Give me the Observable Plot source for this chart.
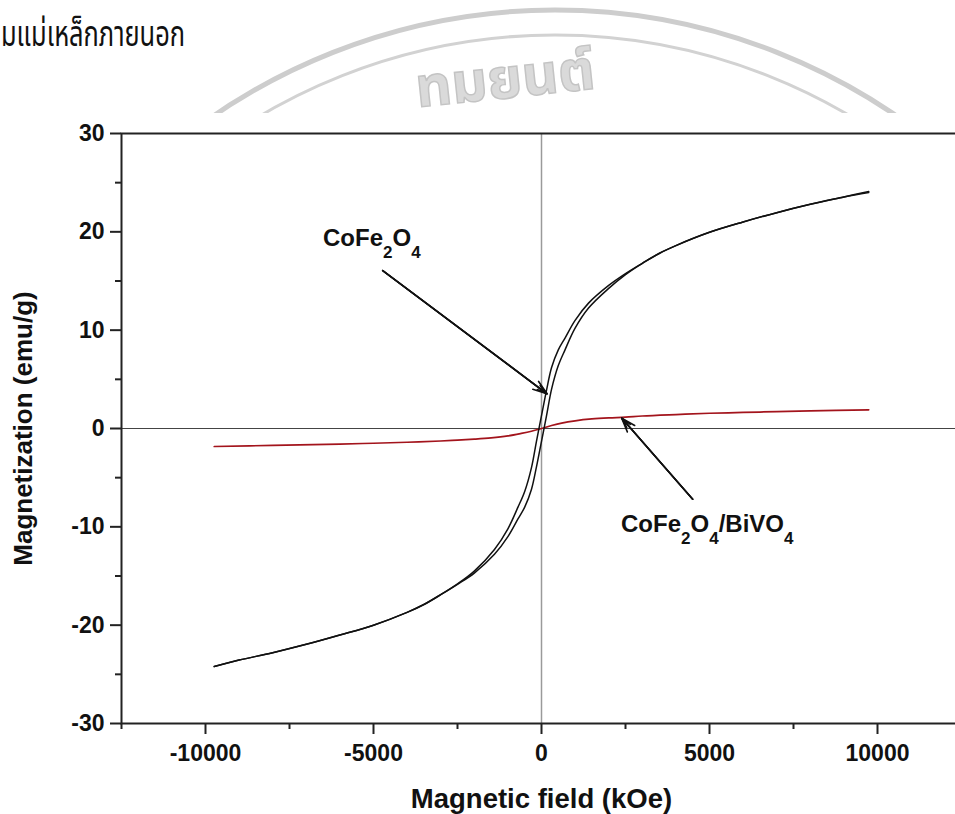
<!DOCTYPE html>
<html>
<head>
<meta charset="utf-8">
<script src="https://cdn.jsdelivr.net/npm/d3@7"></script>
<script src="https://cdn.jsdelivr.net/npm/@observablehq/plot@0.6"></script>
<style>
  html, body { margin: 0; padding: 0; background: #fff; overflow: hidden; width: 955px; height: 814px; }
  #page { position: relative; width: 955px; height: 814px; overflow: hidden; background: #fff; }
  #heading { position: absolute; left: 1px; top: 15px; font-family: "Noto Sans Thai", "Noto Sans", sans-serif;
             font-size: 35px; color: #111; white-space: nowrap; transform-origin: 0 0; line-height: 1.2; }
  #seal { position: absolute; left: 0; top: 0; }
  #chart { position: absolute; left: 0; top: 113px; width: 966px; }
  #chart svg { max-width: none !important; }
</style>
</head>
<body>
<div id="page">
  <svg id="seal" width="955" height="160"></svg>
  <div id="heading">มแม่เหล็กภายนอก</div>
  <div id="chart"></div>
</div>
<script>
// CoFe2O4: descending-field branch of the hysteresis loop (Oe, emu/g)
const coFeDescH = [9740, 9000, 8000, 7000, 6000, 5000, 4000, 3500, 3000, 2500, 2000, 1400, 1000, 700, 500, 300, 150, 0,
  -150, -300, -500, -700, -1000, -1400, -2000, -2500, -3000, -3500, -4000, -5000, -6000, -7000, -8000, -9000, -9740];
const coFeDescM = [24.1, 23.55, 22.8, 21.95, 21.0, 19.95, 18.6, 17.8, 16.8, 15.75, 14.55, 12.75, 11.0, 9.2, 8.0, 6.2, 3.9, 1.3,
  -1.3, -4.0, -6.4, -8.0, -10.2, -12.3, -14.5, -15.8, -16.9, -17.9, -18.7, -20.0, -21.0, -21.95, -22.8, -23.55, -24.2];

// CoFe2O4: ascending-field branch
const coFeAscH = [-9740, -9000, -8000, -7000, -6000, -5000, -4000, -3500, -3000, -2500, -2000, -1400, -1000, -700, -500, -300, -150, 0,
  150, 300, 500, 700, 1000, 1400, 2000, 2500, 3000, 3500, 4000, 5000, 6000, 7000, 8000, 9000, 9740];
const coFeAscM = [-24.2, -23.55, -22.8, -21.95, -21.0, -20.0, -18.7, -17.9, -16.9, -15.85, -14.7, -12.8, -11.0, -9.2, -8.0, -6.2, -3.9, -1.3,
  1.3, 4.0, 6.4, 8.0, 10.2, 12.25, 14.25, 15.65, 16.8, 17.8, 18.6, 19.95, 21.0, 21.95, 22.8, 23.55, 24.0];

// CoFe2O4/BiVO4 composite
const compH = [-9740, -8000, -6000, -5000, -4000, -3000, -2500, -2000, -1500, -1000, -600, -300, 0,
  300, 600, 1000, 1500, 2000, 2500, 3000, 4000, 5000, 6000, 7000, 8000, 9740];
const compM = [-1.83, -1.72, -1.58, -1.50, -1.40, -1.27, -1.18, -1.08, -0.95, -0.75, -0.50, -0.28, 0,
  0.30, 0.55, 0.78, 0.97, 1.08, 1.15, 1.27, 1.42, 1.55, 1.63, 1.72, 1.80, 1.90];

// Axis ticks and labels
const xMajor = [-10000, -5000, 0, 5000, 10000];
const xTickLabels = ["-10000", "-5000", "0", "5000", "10000"];
const xMinor = [-12500, -7500, -2500, 2500, 7500, 12500];
const yMajor = [-30, -20, -10, 0, 10, 20, 30];
const yTickLabels = ["-30", "-20", "-10", "0", "10", "20", "30"];
const yMinor = [-25, -15, -5, 5, 15, 25];

// Annotations: label text, anchor position, arrow start and tip (data units)
const labelText = ["CoFe2O4", "CoFe2O4/BiVO4"];
const labelH = [-6503, 2366];
const labelM = [19.36, -9.79];
const arrowH1 = [-4726, 4500];
const arrowM1 = [16.06, -7.19];
const arrowH2 = [164, 2387];
const arrowM2 = [3.53, 1.06];

const desc = coFeDescH.map((h, i) => ({H: h, M: coFeDescM[i]}));
const asc = coFeAscH.map((h, i) => ({H: h, M: coFeAscM[i]}));
const comp = compH.map((h, i) => ({H: h, M: compM[i]}));
const labels = labelText.map((t, i) => ({t, H: labelH[i], M: labelM[i]}));
const arrows = arrowH1.map((h, i) => ({x1: h, y1: arrowM1[i], x2: arrowH2[i], y2: arrowM2[i]}));

const arrowStyle = {x1: "x1", y1: "y1", x2: "x2", y2: "y2", stroke: "#111", strokeWidth: 1.6};

const chart = Plot.plot({
  width: 966,
  height: 701,
  marginLeft: 121,
  marginRight: 5,
  marginTop: 20,
  marginBottom: 91,
  x: {domain: [-12500, 12500]},
  y: {domain: [-30, 30]},
  style: {
    fontFamily: "'Liberation Sans', Arial, Helvetica, sans-serif",
    fontSize: "23px",
    fontWeight: "bold",
    color: "#111",
    background: "#fff",
    overflow: "visible",
    maxWidth: "none"
  },
  marks: [
    Plot.ruleX([0], {stroke: "#9a9a9a", strokeWidth: 1.5}),
    Plot.ruleY([0], {stroke: "#444", strokeWidth: 1}),
    Plot.line(comp, {x: "H", y: "M", stroke: "#a3141c", strokeWidth: 1.7, curve: "catmull-rom"}),
    Plot.line(desc, {x: "H", y: "M", stroke: "#111", strokeWidth: 1.5, curve: "catmull-rom"}),
    Plot.line(asc, {x: "H", y: "M", stroke: "#111", strokeWidth: 1.5, curve: "catmull-rom"}),
    Plot.axisX({ticks: xMajor, tickSize: 11, tickPadding: 10, strokeWidth: 2, stroke: "#222",
      tickFormat: d => xTickLabels[xMajor.indexOf(d)], label: null}),
    Plot.axisX({ticks: xMinor, tickSize: 6, strokeWidth: 2, stroke: "#222", tickFormat: () => "", label: null}),
    Plot.axisY({ticks: yMajor, tickSize: 11, tickPadding: 6, strokeWidth: 2, stroke: "#222",
      tickFormat: d => yTickLabels[yMajor.indexOf(d)], label: null}),
    Plot.axisY({ticks: yMinor, tickSize: 6, strokeWidth: 2, stroke: "#222", tickFormat: () => "", label: null}),
    Plot.frame({stroke: "#222", strokeWidth: 2}),
    // arrows with nested heads so the tips read as solid triangles
    Plot.arrow(arrows, {...arrowStyle, headLength: 14, headAngle: 38}),
    Plot.arrow(arrows, {...arrowStyle, headLength: 10, headAngle: 26}),
    Plot.arrow(arrows, {...arrowStyle, headLength: 6, headAngle: 16}),
    Plot.text(labels, {x: "H", y: "M", text: "t", textAnchor: "start", lineAnchor: "middle",
      fontSize: 24, fontWeight: "bold", fill: "#111", className: "formula"}),
    Plot.text(["Magnetic field (kOe)"], {frameAnchor: "bottom", dy: 76, textAnchor: "middle", lineAnchor: "middle",
      fontSize: 27.5, fontWeight: "bold", fill: "#111"}),
    Plot.text(["Magnetization (emu/g)"], {frameAnchor: "left", dx: -98, rotate: -90, textAnchor: "middle",
      lineAnchor: "middle", fontSize: 26, fontWeight: "bold", fill: "#111"})
  ]
});

// chemical formulas: digits become lowered subscripts
d3.select(chart).selectAll(".formula text").each(function () {
  const s = this.textContent;
  const node = d3.select(this);
  node.text(null);
  let sub = false;
  for (const ch of s) {
    const isDigit = /[0-9]/.test(ch);
    const t = node.append("tspan").text(ch);
    if (isDigit) {
      t.attr("font-size", 17);
      if (!sub) t.attr("dy", 12);
      sub = true;
    } else {
      if (sub) t.attr("dy", -12);
      sub = false;
    }
  }
});

document.getElementById("chart").append(chart);

// heading line, fitted to its printed width
const heading = document.getElementById("heading");
const hw = heading.getBoundingClientRect().width;
heading.style.transform = `scaleX(${184 / hw})`;

// faint seal behind the page top; the chart's white ground covers its lower part
const seal = d3.select("#seal");
seal.append("circle").attr("cx", 555).attr("cy", 613).attr("r", 603)
  .attr("fill", "none").attr("stroke", "#cdcdcd").attr("stroke-width", 5);
seal.append("circle").attr("cx", 555).attr("cy", 613).attr("r", 578)
  .attr("fill", "none").attr("stroke", "#d2d2d2").attr("stroke-width", 3);
seal.append("text").attr("x", 505).attr("y", 98).attr("text-anchor", "middle")
  .attr("transform", "rotate(-6 505 80)")
  .attr("font-family", "'Noto Sans Thai', 'Noto Sans', sans-serif")
  .attr("font-size", 56).attr("font-weight", "bold")
  .attr("fill", "#dadada").attr("stroke", "#c4c4c4").attr("stroke-width", 1.5)
  .text("ทมยนต์");
</script>
</body>
</html>
